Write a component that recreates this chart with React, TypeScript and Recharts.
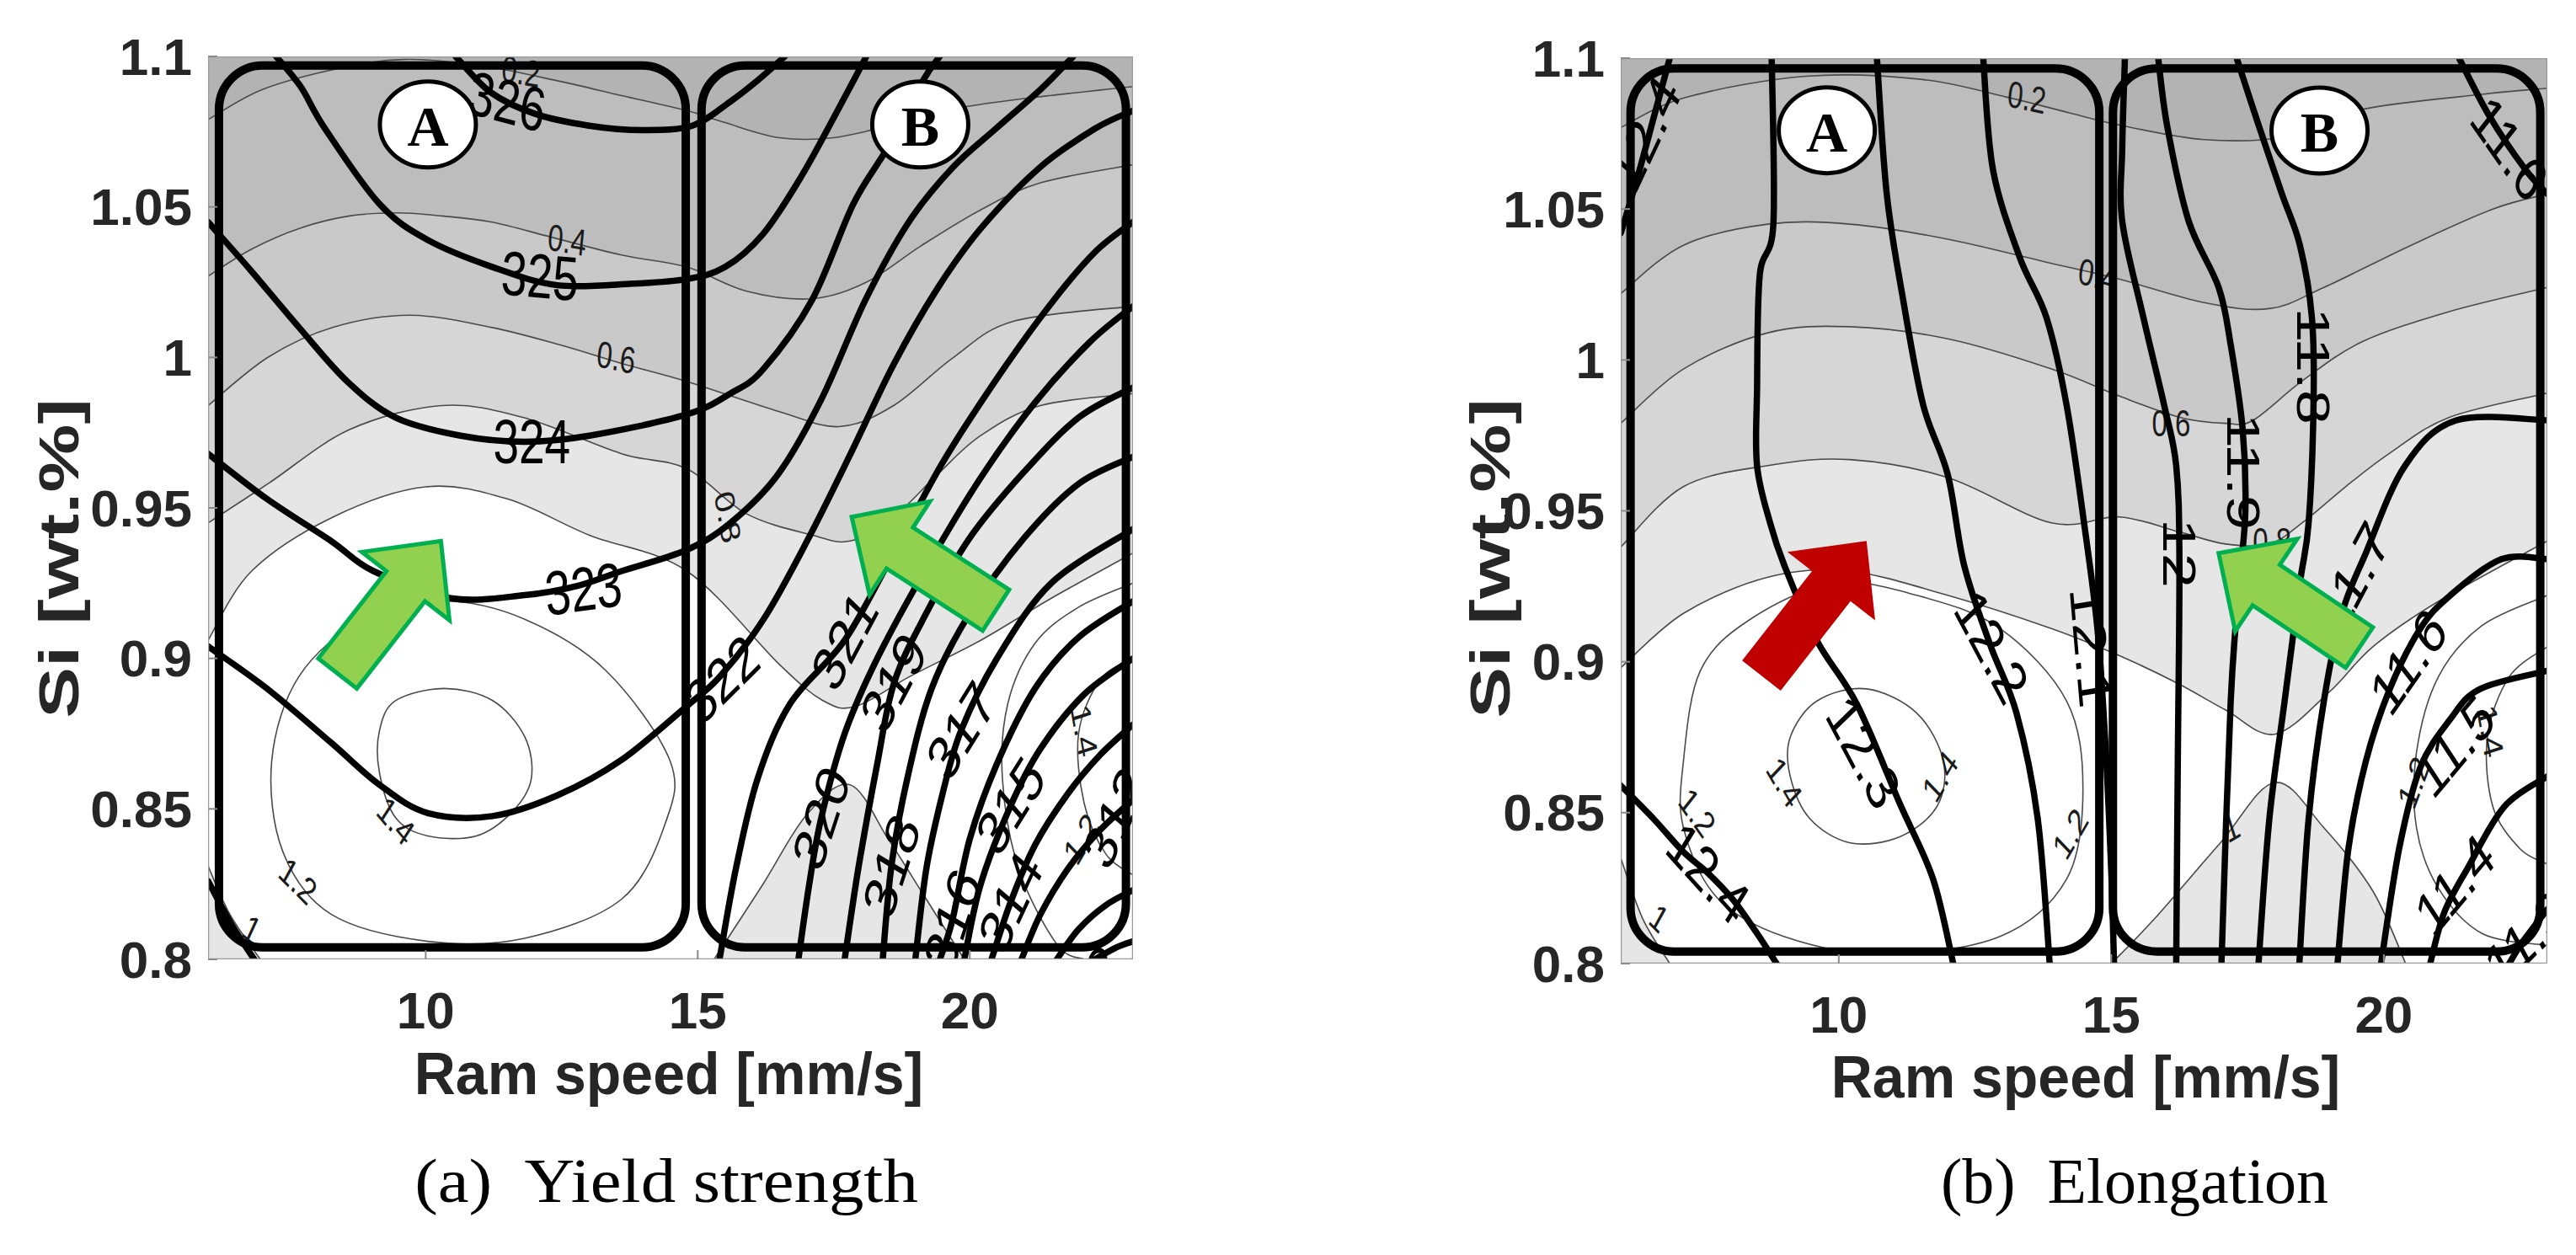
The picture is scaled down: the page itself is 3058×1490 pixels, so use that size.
import React from "react";
import { ComposedChart, Scatter, XAxis, YAxis } from "recharts";

type Pt = [number, number];
type Lab = [string, number, number, number];

const X_DOMAIN: [number, number] = [6, 23];
const Y_DOMAIN: [number, number] = [0.8, 1.1];
const X_TICKS = [10, 15, 20];
const Y_TICKS = [0.8, 0.85, 0.9, 0.95, 1, 1.05, 1.1];

// grey shades for the filled bands: <0.2, 0.2-0.4, 0.4-0.6, 0.6-0.8, 0.8-1.0, >1.0
const SHADES = ["#b3b3b3", "#bdbdbd", "#c9c9c9", "#d6d6d6", "#e6e6e6", "#ffffff"];

// ---------- (a) yield strength : thin contours ----------
const aT02: Pt[] = [[6, 1.079], [7, 1.089], [8.4, 1.096], [9.6, 1.099], [11, 1.097], [12.4, 1.092], [13.6, 1.087], [14.8, 1.082], [15.5, 1.078], [16.5, 1.073], [17.5, 1.073], [18.5, 1.077], [19.5, 1.082], [21, 1.086], [23, 1.09]];
const aT04: Pt[] = [[6, 1.027], [6.8, 1.036], [7.7, 1.043], [8.6, 1.047], [9.5, 1.048], [10.3, 1.047], [11.2, 1.045], [12.3, 1.04], [13.6, 1.034], [14.8, 1.03], [15.9, 1.022], [17.1, 1.0195], [18.1, 1.025], [19.1, 1.037], [20.2, 1.049], [21.3, 1.058], [23, 1.064]];
const aT06: Pt[] = [[6, 0.984], [7.1, 1.0], [8.3, 1.01], [9.7, 1.014], [11.2, 1.01], [12.5, 1.004], [13.6, 0.998], [14.8, 0.992], [16.5, 0.982], [17.6, 0.977], [18.6, 0.984], [19.7, 1.0], [20.8, 1.012], [23, 1.017]];
const aT08: Pt[] = [[6, 0.945], [7.1, 0.958], [8.6, 0.976], [10.3, 0.984], [11.8, 0.98], [13.6, 0.968], [14.8, 0.963], [15.9, 0.948], [17.1, 0.941], [17.8, 0.939], [18.6, 0.947], [19.4, 0.961], [20.2, 0.974], [21.3, 0.984], [23, 0.988]];
const aT10: Pt[] = [[6, 0.906], [6.8, 0.929], [8.3, 0.947], [10, 0.957], [11.5, 0.953], [13, 0.941], [14.8, 0.929], [16.5, 0.898], [17.3, 0.886], [17.9, 0.884], [18.9, 0.894], [20.2, 0.906], [21.5, 0.92], [23, 0.935]];
const aT10low: Pt[] = [[15.3, 0.8], [16.2, 0.825], [17, 0.848], [17.8, 0.858], [18.5, 0.84], [19.2, 0.82], [19.9, 0.8]];
const aT10corner: Pt[] = [[6, 0.831], [6.4, 0.815], [6.96, 0.8]];
const aT12: Pt[] = [[7.17, 0.866], [7.67, 0.894], [8.86, 0.913], [10.34, 0.919], [11.82, 0.913], [13.31, 0.896], [14.49, 0.866], [14.4, 0.845], [13.6, 0.82], [11.82, 0.807], [10.04, 0.806], [8.26, 0.815], [7.37, 0.836]];
const aT14: Pt[] = [[9.15, 0.876], [9.45, 0.886], [10.34, 0.89], [11.23, 0.886], [11.82, 0.874], [11.94, 0.86], [11.59, 0.849], [10.93, 0.841], [10.04, 0.841], [9.45, 0.847], [9.15, 0.862]];
const aT12b: Pt[] = [[23, 0.925], [22, 0.917], [21.2, 0.905], [20.7, 0.885], [20.6, 0.86], [20.9, 0.83], [21.6, 0.805], [22.1, 0.8]];
const aT14b: Pt[] = [[23, 0.9], [22.4, 0.893], [22, 0.875], [22.1, 0.852], [22.5, 0.835], [23, 0.828]];
const aThinLabels: Lab[] = [["0.2", 11.75, 1.095, 10], ["0.4", 12.6, 1.039, 10], ["0.6", 13.5, 1.0, 12], ["0.8", 15.55, 0.947, 80], ["1.4", 9.45, 0.846, 50], ["1.2", 7.65, 0.826, 45], ["1", 6.8, 0.81, 40], ["1.4", 22.1, 0.876, 80], ["1.2", 22.05, 0.84, -60]];

// ---------- (a) yield strength : thick contours [MPa] ----------
const ys326: Pt[] = [[10.55, 1.1], [11.2, 1.088], [12, 1.081], [13, 1.077], [14, 1.0755], [14.9, 1.077], [15.6, 1.085], [16.1, 1.092], [16.6, 1.1]];
const ys325: Pt[] = [[7.25, 1.1], [7.7, 1.09], [8.15, 1.076], [9.15, 1.051], [10.04, 1.039], [11.23, 1.03], [12.42, 1.024], [13.8, 1.0245], [14.79, 1.026], [15.5, 1.03], [16.2, 1.041], [16.9, 1.06], [17.6, 1.083], [18.1, 1.1]];
const ys324: Pt[] = [[6, 1.045], [6.78, 1.029], [7.67, 1.01], [8.56, 0.992], [9.45, 0.98], [10.64, 0.974], [11.82, 0.972], [13.01, 0.974], [14.79, 0.981], [15.6, 0.988], [16.2, 0.996], [17.1, 1.019], [17.86, 1.051], [18.5, 1.07], [19.14, 1.092], [19.45, 1.1]];
const ys323: Pt[] = [[6, 0.968], [7.08, 0.953], [8.26, 0.939], [9.04, 0.929], [10.46, 0.92], [11.82, 0.921], [12.77, 0.924], [13.6, 0.929], [14.79, 0.936], [15.6, 0.945], [16.47, 0.961], [17.27, 0.986], [18.08, 1.019], [18.88, 1.045], [19.68, 1.063], [20.48, 1.076], [21.3, 1.089], [21.9, 1.1]];
const ys322: Pt[] = [[6, 0.904], [7.08, 0.89], [8.26, 0.872], [9.15, 0.858], [10.04, 0.8486], [11.23, 0.8476], [12.42, 0.8545], [13.6, 0.8663], [14.79, 0.884], [15.41, 0.894], [16.21, 0.913], [17.01, 0.939], [17.81, 0.968], [18.61, 0.998], [19.41, 1.023], [20.21, 1.043], [21.28, 1.063], [22.3, 1.076], [23, 1.082]];
const ys321: Pt[] = [[15.4, 0.8], [15.7, 0.83], [16.1, 0.86], [16.7, 0.885], [17.7, 0.906], [18.6, 0.935], [19.5, 0.965], [20.5, 0.993], [21.5, 1.018], [22.3, 1.035], [23, 1.045]];
const ys321corner: Pt[] = [[6, 0.826], [6.45, 0.811], [6.85, 0.8]];
const ys320: Pt[] = [[16.85, 0.8], [17.05, 0.825], [17.27, 0.847], [17.7, 0.875], [18.3, 0.9], [19.2, 0.93], [20.2, 0.96], [21.2, 0.985], [22.2, 1.005], [23, 1.017]];
const ys319: Pt[] = [[17.7, 0.8], [17.95, 0.83], [18.3, 0.865], [18.61, 0.892], [19.2, 0.915], [20, 0.94], [21, 0.962], [22, 0.98], [23, 0.99]];
const ys318: Pt[] = [[18.4, 0.8], [18.56, 0.831], [18.85, 0.86], [19.3, 0.89], [20, 0.915], [21, 0.94], [22, 0.958], [23, 0.967]];
const ys317: Pt[] = [[19, 0.8], [19.2, 0.83], [19.5, 0.855], [19.84, 0.876], [20.5, 0.9], [21.5, 0.925], [23, 0.943]];
const ys316: Pt[] = [[19.45, 0.8], [19.68, 0.813], [20, 0.84], [20.5, 0.865], [21.2, 0.89], [22, 0.907], [23, 0.919]];
const ys315: Pt[] = [[19.9, 0.8], [20.2, 0.825], [20.75, 0.851], [21.3, 0.87], [22.1, 0.888], [23, 0.9]];
const ys314: Pt[] = [[20.4, 0.8], [20.75, 0.819], [21.2, 0.838], [21.8, 0.855], [22.4, 0.868], [23, 0.878]];
const ys313: Pt[] = [[20.95, 0.8], [21.3, 0.815], [21.8, 0.83], [22.4, 0.843], [23, 0.853]];
const ys312: Pt[] = [[21.6, 0.8], [22, 0.81], [22.5, 0.818], [23, 0.823]];
const ys311: Pt[] = [[22.3, 0.8], [22.7, 0.804], [23, 0.806]];
const aThickLabels: Lab[] = [["326", 11.5, 1.085, 15], ["325", 12.1, 1.027, 5], ["324", 11.95, 0.972, 0], ["323", 12.9, 0.923, -8], ["322", 15.45, 0.893, -45], ["321", 17.7, 0.906, -62], ["320", 17.27, 0.847, -72], ["319", 18.6, 0.892, -62], ["318", 18.56, 0.831, -72], ["317", 19.84, 0.876, -58], ["316", 19.68, 0.813, -72], ["315", 20.75, 0.851, -58], ["314", 20.75, 0.819, -65], ["312", 22.67, 0.847, -65], ["3", 22.45, 0.797, -50]];

// ---------- (b) elongation : thin contours ----------
const bT02: Pt[] = [[6, 1.077], [7.2, 1.087], [9.4, 1.094], [11.5, 1.093], [13.1, 1.087], [14.2, 1.082], [15.1, 1.078], [16.7, 1.073], [18.2, 1.074], [19.6, 1.083], [21.8, 1.088], [23, 1.09]];
const bT04: Pt[] = [[6, 1.022], [7.15, 1.038], [8.7, 1.045], [10.2, 1.045], [12, 1.04], [13.9, 1.032], [15.1, 1.027], [16.7, 1.019], [17.9, 1.017], [18.9, 1.024], [20.5, 1.038], [22, 1.05], [23, 1.055]];
const bT06: Pt[] = [[6, 0.979], [7.15, 0.997], [8.7, 1.009], [10.2, 1.011], [12, 1.007], [13.9, 0.997], [15.15, 0.988], [16.25, 0.981], [17.1, 0.979], [17.6, 0.98], [18.5, 0.993], [19.6, 1.006], [21.2, 1.016], [23, 1.024]];
const bT08: Pt[] = [[6, 0.938], [7.15, 0.958], [8.7, 0.965], [10.2, 0.967], [12, 0.961], [13.9, 0.946], [15.15, 0.948], [16.25, 0.943], [17.1, 0.939], [17.9, 0.939], [18.5, 0.946], [19.3, 0.958], [20.1, 0.969], [21.2, 0.981], [23, 0.989]];
const bT10: Pt[] = [[6, 0.898], [7.15, 0.916], [8.7, 0.928], [10.2, 0.93], [12, 0.922], [13.9, 0.911], [15.15, 0.902], [16.2, 0.893], [17.1, 0.884], [18, 0.876], [19, 0.89], [19.8, 0.905], [21, 0.92], [23, 0.94]];
const bT10low: Pt[] = [[15, 0.8], [15.8, 0.815], [17, 0.84], [18, 0.86], [18.9, 0.845], [19.8, 0.824], [20.4, 0.8]];
const bT10corner: Pt[] = [[6, 0.835], [6.4, 0.815], [6.9, 0.8]];
const bT12: Pt[] = [[7.15, 0.867], [7.46, 0.897], [8.37, 0.914], [9.9, 0.926], [11.43, 0.922], [12.96, 0.911], [14.18, 0.887], [14.48, 0.858], [14.18, 0.828], [12.96, 0.809], [10.82, 0.803], [8.99, 0.809], [7.76, 0.822], [7.15, 0.845]];
const bT14: Pt[] = [[9.11, 0.875], [9.6, 0.887], [10.51, 0.891], [11.43, 0.883], [11.92, 0.867], [11.8, 0.852], [11.12, 0.842], [10.21, 0.84], [9.47, 0.848], [9.11, 0.862]];
const bT12b: Pt[] = [[23, 0.922], [21.8, 0.912], [21, 0.895], [20.6, 0.87], [20.6, 0.845], [21, 0.825], [21.8, 0.81], [23, 0.806]];
const bT14b: Pt[] = [[23, 0.905], [22.3, 0.895], [21.9, 0.875], [22, 0.852], [22.5, 0.838], [23, 0.833]];
const bThinLabels: Lab[] = [["0.2", 13.45, 1.087, 12], ["0.4", 14.75, 1.028, 15], ["0.6", 16.1, 0.979, 0], ["0.8", 17.95, 0.94, 0], ["1.4", 9.0, 0.86, 60], ["1.4", 11.86, 0.862, -60], ["1.2", 7.4, 0.85, 55], ["1.2", 14.25, 0.843, -60], ["1", 6.7, 0.815, 45], ["1", 17.2, 0.845, -30], ["1.4", 21.95, 0.877, 80], ["1.2", 20.55, 0.86, -70]];

// ---------- (b) elongation : thick contours [%] ----------
const el124a: Pt[] = [[6.9, 1.1], [6.6, 1.08], [6.3, 1.06], [6, 1.042]];
const el124b: Pt[] = [[6, 0.859], [6.6, 0.848], [7.15, 0.837], [7.6, 0.83], [8.07, 0.821], [8.5, 0.81], [8.86, 0.8]];
const el123: Pt[] = [[8.77, 1.1], [8.8, 1.045], [8.55, 1.028], [8.5, 0.99], [8.5, 0.965], [8.74, 0.946], [9, 0.932], [9.6, 0.907], [10.33, 0.886], [11.12, 0.853], [11.73, 0.828], [12.1, 0.8]];
const el122: Pt[] = [[10.7, 1.1], [10.88, 1.055], [11.18, 1.02], [11.55, 0.985], [12, 0.962], [12.3, 0.932], [12.77, 0.906], [13.26, 0.883], [13.65, 0.848], [13.87, 0.8]];
const el121: Pt[] = [[12.65, 1.1], [12.83, 1.063], [13.32, 1.034], [13.81, 1.014], [14.18, 0.985], [14.5, 0.946], [14.75, 0.91], [14.9, 0.87], [15, 0.83], [15.05, 0.8]];
const el120: Pt[] = [[15.25, 1.1], [15.2, 1.07], [15.2, 1.046], [15.59, 1.014], [15.97, 0.985], [16.19, 0.965], [16.25, 0.934], [16.22, 0.867], [16.19, 0.8]];
const el119: Pt[] = [[15.86, 1.1], [16.03, 1.077], [16.42, 1.046], [16.97, 1.024], [17.19, 1.005], [17.41, 0.977], [17.46, 0.95], [17.35, 0.926], [17.19, 0.887], [17.02, 0.8]];
const el118: Pt[] = [[17.3, 1.1], [17.68, 1.079], [18.13, 1.055], [18.46, 1.038], [18.68, 1.014], [18.71, 0.985], [18.62, 0.946], [18.46, 0.926], [18.18, 0.887], [17.9, 0.848], [17.7, 0.8]];
const el117: Pt[] = [[23, 0.98], [21.33, 0.98], [20.39, 0.965], [19.67, 0.936], [19.23, 0.916], [18.9, 0.887], [18.62, 0.848], [18.45, 0.8]];
const el116: Pt[] = [[23, 0.934], [22.16, 0.934], [21.22, 0.922], [20.67, 0.911], [20.11, 0.891], [19.67, 0.867], [19.35, 0.838], [19.15, 0.8]];
const el115: Pt[] = [[23, 0.897], [21.77, 0.891], [21.22, 0.881], [20.67, 0.865], [20.28, 0.838], [19.95, 0.8]];
const el114: Pt[] = [[23, 0.862], [22.21, 0.852], [21.55, 0.832], [21.11, 0.817], [20.85, 0.8]];
const el113: Pt[] = [[23, 0.818], [22.54, 0.807], [22.3, 0.8]];
const el116top: Pt[] = [[21.38, 1.1], [21.93, 1.081], [22.6, 1.063], [23, 1.055]];
const bThickLabels: Lab[] = [["12.4", 6.45, 1.075, -65], ["12.4", 7.6, 0.83, 48], ["12.3", 10.45, 0.87, 62], ["12.2", 12.8, 0.905, 62], ["12.1", 14.62, 0.905, 85], ["12", 16.25, 0.936, 90], ["11.9", 17.42, 0.963, 90], ["11.8", 18.7, 0.998, 90], ["11.7", 19.45, 0.928, -62], ["11.6", 20.45, 0.9, -55], ["11.5", 21.3, 0.872, -50], ["11.4", 21.3, 0.826, -50], ["11.3", 22.6, 0.808, -45], ["11.6", 22.3, 1.07, 55]];

// ---------- regions, circled letters, arrows ----------
const aRegions: [string, number, number, number, number, number, number][] = [["A", 6.2, 14.78, 0.804, 1.097, 10.04, 1.0774], ["B", 15.07, 22.87, 0.804, 1.097, 19.09, 1.0774]];
const bRegions: [string, number, number, number, number, number, number][] = [["A", 6.18, 14.78, 0.804, 1.0966, 9.78, 1.0761], ["B", 15.03, 22.87, 0.804, 1.0966, 18.82, 1.076]];
const aArrows: [Pt, Pt, string][] = [[[8.38, 0.895], [10.28, 0.939], "green"], [[20.48, 0.916], [17.83, 0.947], "green"]];
const bArrows: [Pt, Pt, string][] = [[[8.58, 0.8954], [10.51, 0.94], "red"], [[19.55, 0.9047], [16.97, 0.936], "green"]];

const SANS = "'Liberation Sans', Arial, sans-serif";
const SERIF = "'Liberation Serif', 'Times New Roman', serif";
const LABEL_STRETCH = 1.35;

type P = { x: number; y: number };

function segs(pts: P[], closed: boolean): string {
  const n = pts.length;
  const get = (i: number) => (closed ? pts[(i + n) % n] : pts[Math.max(0, Math.min(n - 1, i))]);
  const last = closed ? n : n - 1;
  let d = "";
  for (let i = 0; i < last; i++) {
    const p0 = get(i - 1), p1 = get(i), p2 = get(i + 1), p3 = get(i + 2);
    const c1x = p1.x + (p2.x - p0.x) / 6, c1y = p1.y + (p2.y - p0.y) / 6;
    const c2x = p2.x - (p3.x - p1.x) / 6, c2y = p2.y - (p3.y - p1.y) / 6;
    d += ` C${c1x.toFixed(1)},${c1y.toFixed(1)} ${c2x.toFixed(1)},${c2y.toFixed(1)} ${p2.x.toFixed(1)},${p2.y.toFixed(1)}`;
  }
  return d;
}

const toXY = (pts: Pt[]) => pts.map(([x, y]) => ({ x, y }));
const NoDot = () => <g />;

function strokeLine(closed: boolean, color: string, width: number) {
  return (props: any) => {
    const pts: P[] = props.points || [];
    if (pts.length < 2) return <g />;
    const d = `M${pts[0].x.toFixed(1)},${pts[0].y.toFixed(1)}` + segs(pts, closed) + (closed ? " Z" : "");
    return <path d={d} fill="none" stroke={color} strokeWidth={width} strokeLinejoin="round" strokeLinecap="round" />;
  };
}

function fillShape(runs: number[], color: string) {
  return (props: any) => {
    const pts: P[] = props.points || [];
    let d = "";
    let k = 0;
    runs.forEach((len, ri) => {
      const r = pts.slice(k, k + len);
      k += len;
      if (!r.length) return;
      d += (ri === 0 ? "M" : " L") + `${r[0].x.toFixed(1)},${r[0].y.toFixed(1)}` + segs(r, false);
    });
    return <path d={d + " Z"} fill={color} stroke="none" />;
  };
}

function rectShape(fill: string, stroke: string, width: number, radius: number) {
  return (props: any) => {
    const pts: P[] = props.points || [];
    if (pts.length < 2) return <g />;
    const x = Math.min(pts[0].x, pts[1].x);
    const y = Math.min(pts[0].y, pts[1].y);
    return (
      <rect x={x} y={y} width={Math.abs(pts[1].x - pts[0].x)} height={Math.abs(pts[1].y - pts[0].y)} rx={radius} ry={radius} fill={fill} stroke={stroke} strokeWidth={width} />
    );
  };
}

function arrowShape(fill: string, stroke: string) {
  return (props: any) => {
    const pts: P[] = props.points || [];
    if (pts.length < 2) return <g />;
    const [t, h] = pts;
    const len = Math.hypot(h.x - t.x, h.y - t.y);
    const ux = (h.x - t.x) / len, uy = (h.y - t.y) / len;
    const nx = -uy, ny = ux;
    const w1 = 29, w2 = 66, hl = 68;
    const bx = h.x - ux * hl, by = h.y - uy * hl;
    const poly = [
      [t.x + nx * w1, t.y + ny * w1], [bx + nx * w1, by + ny * w1], [bx + nx * w2, by + ny * w2], [h.x, h.y],
      [bx - nx * w2, by - ny * w2], [bx - nx * w1, by - ny * w1], [t.x - nx * w1, t.y - ny * w1],
    ].map((p) => p.map((v) => v.toFixed(1)).join(",")).join(" ");
    return <polygon points={poly} fill={fill} stroke={stroke} strokeWidth={stroke === "none" ? 0 : 5} strokeLinejoin="miter" />;
  };
}

function labelShape(size: number, color: string) {
  return (p: any) => {
    const d = p.payload || p;
    const a = (d.r * Math.PI) / 180;
    const a2 = (Math.atan2(Math.sin(a) / LABEL_STRETCH, Math.cos(a)) * 180) / Math.PI;
    return (
      <text transform={`translate(${p.cx},${p.cy}) scale(1,${LABEL_STRETCH}) rotate(${a2.toFixed(1)})`} textAnchor="middle" dominantBaseline="central" fontFamily={SANS} fontSize={size} fill={color}>
        {d.t}
      </text>
    );
  };
}

function circleShape(p: any) {
  const d = p.payload || p;
  return (
    <g>
      <ellipse cx={p.cx} cy={p.cy} rx={57} ry={51} fill="#ffffff" stroke="#000000" strokeWidth={5} />
      <text x={p.cx} y={p.cy + 2} textAnchor="middle" dominantBaseline="central" fontFamily={SERIF} fontWeight="bold" fontSize={68} fill="#000">
        {d.t}
      </text>
    </g>
  );
}

const YTick = (p: any) => (
  <g>
    <line x1={p.x} x2={p.x + 11} y1={p.y} y2={p.y} stroke="#8a8a8a" strokeWidth={2} />
    <text x={p.x - 19} y={p.y} textAnchor="end" dominantBaseline="central" fontFamily={SANS} fontWeight="bold" fontSize={62} fill="#262626">
      {String(p.payload.value)}
    </text>
  </g>
);
const YTickR = (p: any) => <line x1={p.x} x2={p.x - 11} y1={p.y} y2={p.y} stroke="#8a8a8a" strokeWidth={2} />;
const XTick = (p: any) => (
  <g>
    <line x1={p.x} x2={p.x} y1={p.y} y2={p.y - 11} stroke="#8a8a8a" strokeWidth={2} />
    <text x={p.x} y={p.y + 60} textAnchor="middle" dominantBaseline="central" fontFamily={SANS} fontWeight="bold" fontSize={62} fill="#262626">
      {String(p.payload.value)}
    </text>
  </g>
);
const XTickT = (p: any) => <line x1={p.x} x2={p.x} y1={p.y} y2={p.y + 11} stroke="#8a8a8a" strokeWidth={2} />;

type Fill = { runs: Pt[][]; shade: string };

type PanelProps = {
  width: number;
  height: number;
  margin: { top: number; right: number; bottom: number; left: number };
  fills: Fill[];
  thin: { pts: Pt[]; closed: boolean }[];
  thinLabels: Lab[];
  thick: Pt[][];
  thickLabels: Lab[];
  regions: [string, number, number, number, number, number, number][];
  arrows: [Pt, Pt, string][];
};

function Panel(props: PanelProps) {
  const { fills, thin, thick, regions, arrows } = props;
  return (
    <ComposedChart width={props.width} height={props.height} margin={props.margin}>
      <XAxis type="number" dataKey="x" domain={X_DOMAIN} ticks={X_TICKS} interval={0} allowDataOverflow height={201} tickSize={0} tickMargin={0} axisLine={false} tick={XTick} />
      <XAxis xAxisId="top" orientation="top" type="number" dataKey="x" domain={X_DOMAIN} ticks={X_TICKS} interval={0} allowDataOverflow height={0} tickSize={0} tickMargin={0} axisLine={false} tick={XTickT} />
      <YAxis type="number" dataKey="y" domain={Y_DOMAIN} ticks={Y_TICKS} interval={0} allowDataOverflow width={247} tickSize={0} tickMargin={0} axisLine={false} tick={YTick} />
      <YAxis yAxisId="right" orientation="right" type="number" dataKey="y" domain={Y_DOMAIN} ticks={Y_TICKS} interval={0} allowDataOverflow width={0} tickSize={0} tickMargin={0} axisLine={false} tick={YTickR} />

      <Scatter data={toXY([[X_DOMAIN[0], Y_DOMAIN[0]], [X_DOMAIN[1], Y_DOMAIN[1]]])} line={rectShape(SHADES[0], "none", 0, 0)} shape={NoDot} isAnimationActive={false} />
      {fills.map((f, i) => (
        <Scatter key={`f${i}`} data={toXY(f.runs.flat() as Pt[])} line={fillShape(f.runs.map((r) => r.length), f.shade)} shape={NoDot} isAnimationActive={false} />
      ))}
      {thin.map((c, i) => (
        <Scatter key={`t${i}`} data={toXY(c.pts)} line={strokeLine(c.closed, "#4a4a4a", 1.6)} shape={NoDot} isAnimationActive={false} />
      ))}
      <Scatter data={props.thinLabels.map(([t, x, y, r]) => ({ x, y, t, r }))} shape={labelShape(33, "#1a1a1a")} isAnimationActive={false} />
      {thick.map((c, i) => (
        <Scatter key={`k${i}`} data={toXY(c)} line={strokeLine(false, "#000000", 7.5)} shape={NoDot} isAnimationActive={false} />
      ))}
      <Scatter data={props.thickLabels.map(([t, x, y, r]) => ({ x, y, t, r }))} shape={labelShape(55, "#000000")} isAnimationActive={false} />
      {regions.map(([name, x1, x2, y1, y2]) => (
        <Scatter key={`r${name}`} data={toXY([[x1, y1], [x2, y2]])} line={rectShape("none", "#000000", 10, 52)} shape={NoDot} isAnimationActive={false} />
      ))}
      <Scatter data={regions.map(([t, , , , , cx, cy]) => ({ x: cx, y: cy, t }))} shape={circleShape} isAnimationActive={false} />
      {arrows.map(([tail, tip, kind], i) => (
        <Scatter key={`a${i}`} data={toXY([tail, tip])} line={kind === "red" ? arrowShape("#c00000", "none") : arrowShape("#92d050", "#00b050")} shape={NoDot} isAnimationActive={false} />
      ))}
      <Scatter data={toXY([[X_DOMAIN[0], Y_DOMAIN[0]], [X_DOMAIN[1], Y_DOMAIN[1]]])} line={rectShape("none", "#9a9a9a", 2.5, 0)} shape={NoDot} isAnimationActive={false} />
    </ComposedChart>
  );
}

const rev = (pts: Pt[]) => [...pts].reverse();
const CORNERS: Pt[] = [[23, 0.8], [6, 0.8]];

const aFills: Fill[] = [
  { runs: [aT02, CORNERS], shade: SHADES[1] },
  { runs: [aT04, CORNERS], shade: SHADES[2] },
  { runs: [aT06, CORNERS], shade: SHADES[3] },
  { runs: [aT08, CORNERS], shade: SHADES[4] },
  { runs: [aT10, [[23, 0.8]], rev(aT10low), rev(aT10corner)], shade: SHADES[5] },
];
const bFills: Fill[] = [
  { runs: [bT02, CORNERS], shade: SHADES[1] },
  { runs: [bT04, CORNERS], shade: SHADES[2] },
  { runs: [bT06, CORNERS], shade: SHADES[3] },
  { runs: [bT08, CORNERS], shade: SHADES[4] },
  { runs: [bT10, [[23, 0.8]], rev(bT10low), rev(bT10corner)], shade: SHADES[5] },
];

const open = (pts: Pt[]) => ({ pts, closed: false });
const ring = (pts: Pt[]) => ({ pts, closed: true });

const titleStyle = (x: number, y: number, rotate: number, sx: number, sy: number): React.CSSProperties => ({
  position: "absolute",
  left: x,
  top: y,
  transform: `translate(-50%, -50%) rotate(${rotate}deg) scale(${sx}, ${sy})`,
  whiteSpace: "nowrap",
  fontFamily: SANS,
  fontWeight: "bold",
  fontSize: 66,
  color: "#262626",
  lineHeight: 1,
});
const captionStyle = (x: number, y: number, size: number, sx: number): React.CSSProperties => ({
  position: "absolute",
  left: x,
  top: y,
  transform: `translate(-50%, -50%) scale(${sx}, 1)`,
  whiteSpace: "pre",
  fontFamily: SERIF,
  fontSize: size,
  color: "#000",
  lineHeight: 1,
});

export default function App() {
  return (
    <div style={{ position: "absolute", left: 0, top: 0, width: 3058, height: 1490, background: "#fff", overflow: "hidden" }}>
      <div style={{ position: "absolute", left: 0, top: 0 }}>
        <Panel
          width={1420}
          height={1340}
          margin={{ top: 67, right: 75, bottom: 0, left: 0 }}
          fills={aFills}
          thin={[open(aT02), open(aT04), open(aT06), open(aT08), open(aT10), open(aT10low), open(aT10corner), ring(aT12), ring(aT14), open(aT12b), open(aT14b)]}
          thinLabels={aThinLabels}
          thick={[ys326, ys325, ys324, ys323, ys322, ys321, ys321corner, ys320, ys319, ys318, ys317, ys316, ys315, ys314, ys313, ys312, ys311]}
          thickLabels={aThickLabels}
          regions={aRegions}
          arrows={aArrows}
        />
      </div>
      <div style={{ position: "absolute", left: 1677, top: 0 }}>
        <Panel
          width={1420}
          height={1345}
          margin={{ top: 69, right: 73, bottom: 0, left: 0 }}
          fills={bFills}
          thin={[open(bT02), open(bT04), open(bT06), open(bT08), open(bT10), open(bT10low), open(bT10corner), ring(bT12), ring(bT14), open(bT12b), open(bT14b)]}
          thinLabels={bThinLabels}
          thick={[el124a, el124b, el123, el122, el121, el120, el119, el118, el117, el116, el115, el114, el113, el116top]}
          thickLabels={bThickLabels}
          regions={bRegions}
          arrows={bArrows}
        />
      </div>
      <div style={titleStyle(794, 1274, 0, 1.03, 1.08)}>Ram speed [mm/s]</div>
      <div style={titleStyle(2476, 1278, 0, 1.03, 1.08)}>Ram speed [mm/s]</div>
      <div style={titleStyle(70, 663, -90, 1.38, 1)}>Si [wt.%]</div>
      <div style={titleStyle(1769, 663, -90, 1.38, 1)}>Si [wt.%]</div>
      <div style={captionStyle(791, 1402, 74, 1.12)}>{"(a)  Yield strength"}</div>
      <div style={captionStyle(2534, 1402, 76, 1)}>{"(b)  Elongation"}</div>
    </div>
  );
}
